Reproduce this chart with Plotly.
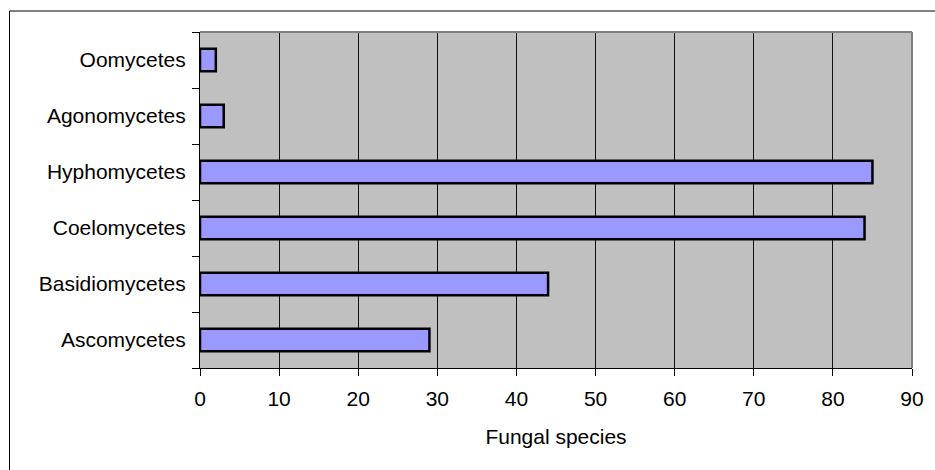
import plotly.graph_objects as go

categories = ["Ascomycetes", "Basidiomycetes", "Coelomycetes", "Hyphomycetes", "Agonomycetes", "Oomycetes"]
species = [29, 44, 84, 85, 3, 2]
x_ticks = [0, 10, 20, 30, 40, 50, 60, 70, 80, 90]

FONT = "Liberation Sans, Arial, sans-serif"
FS = 21

fig = go.Figure(go.Bar(
    y=categories, x=species, orientation="h",
    marker=dict(color="#9999FF", line=dict(color="#000000", width=2.5)),
))

W, H = 935, 470
L, R, T, B = 200, 23, 32, 102
pw, ph = W - L - R, H - T - B

fig.update_layout(
    width=W, height=H,
    margin=dict(l=L, r=R, t=T, b=B, pad=0),
    paper_bgcolor="white", plot_bgcolor="#C0C0C0",
    bargap=0.6, showlegend=False,
    font=dict(family=FONT, size=FS, color="#000000"),
    xaxis=dict(
        range=[0, 90], tickvals=x_ticks, ticktext=[str(v) for v in x_ticks],
        showgrid=True, gridcolor="#111111", gridwidth=1,
        showline=True, linecolor="#000000", linewidth=1,
        ticks="outside", ticklen=7, tickcolor="#000000", tickwidth=1,
        zeroline=False, fixedrange=True, ticklabelstandoff=5,
        title=dict(text="Fungal species", font=dict(family=FONT, size=FS), standoff=20),
        tickfont=dict(family=FONT, size=FS),
    ),
    yaxis=dict(
        type="category", categoryorder="array", categoryarray=categories,
        showgrid=False, showline=True, linecolor="#000000", linewidth=1,
        ticks="outside", ticklen=7, tickcolor="#000000", tickwidth=1,
        tickson="boundaries", ticklabelstandoff=9,
        tickfont=dict(family=FONT, size=FS),
        fixedrange=True,
    ),
    shapes=[
        dict(type="line", xref="paper", yref="paper", x0=0, x1=1, y0=1, y1=1,
             line=dict(color="#808080", width=2), layer="above"),
        dict(type="line", xref="paper", yref="paper", x0=1, x1=1, y0=0, y1=1,
             line=dict(color="#808080", width=2), layer="above"),
        dict(type="rect", xref="paper", yref="paper",
             x0=(9.5 - L) / pw, x1=1.2, y0=-0.5, y1=(H - B - 11) / ph,
             line=dict(color="#000000", width=1), fillcolor="rgba(0,0,0,0)", layer="below"),
    ],
)

fig.write_html(
    "out.html",
    config={"displayModeBar": False, "staticPlot": True},
    post_script="document.body.style.margin='0';document.body.style.overflow='hidden';",
)
